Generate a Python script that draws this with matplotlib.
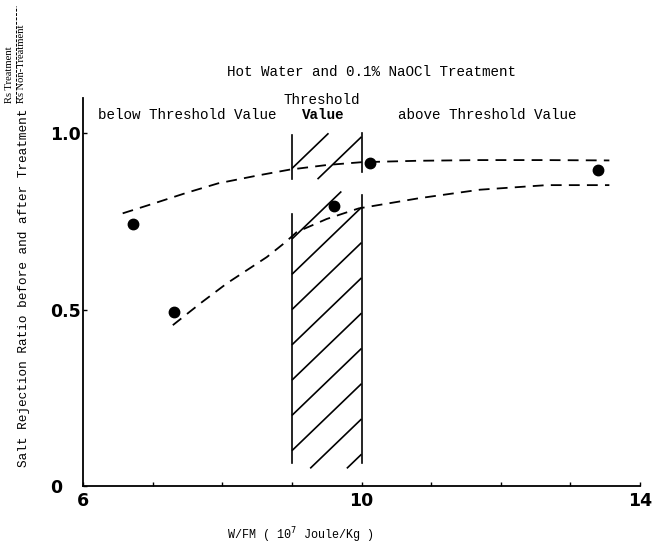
import matplotlib
matplotlib.use("Agg")
import matplotlib.pyplot as plt
import numpy as np

# ---------------- data ----------------
points_x = [6.72, 7.30, 9.60, 10.12, 13.40]
points_y = [0.742, 0.493, 0.793, 0.915, 0.895]

upper_curve_x = [6.57, 7.00, 7.50, 7.94, 8.50, 8.97, 9.50, 10.00, 10.80, 11.70, 12.60, 13.56]
upper_curve_y = [0.773, 0.800, 0.832, 0.858, 0.880, 0.897, 0.910, 0.918, 0.922, 0.924, 0.924, 0.923]

lower_curve_x = [7.29, 7.70, 8.07, 8.64, 8.90, 9.07, 9.50, 9.96, 10.83, 11.70, 12.66, 13.56]
lower_curve_y = [0.456, 0.520, 0.575, 0.649, 0.690, 0.720, 0.757, 0.787, 0.816, 0.840, 0.853, 0.853]

threshold_range = [9.0, 10.0]

x_ticks = [6, 7, 8, 9, 10, 11, 12, 13, 14]
x_ticklabels = ["6", "", "", "", "10", "", "", "", "14"]
y_ticks = [0.0, 0.5, 1.0]
y_ticklabels = ["0", "0.5", "1.0"]

title = "Hot Water and 0.1% NaOCl Treatment"
xlabel = "W/FM ( 10$^{7}$ Joule/Kg )"
ylabel = "Salt Rejection Ratio before and after Treatment"

# ---------------- figure ----------------
W, H = 652, 552
fig = plt.figure(figsize=(W / 100, H / 100), dpi=100)

def fx(px):
    return px / W

def fy(py):
    return 1 - py / H

ax = fig.add_axes([fx(83), fy(486), fx(640) - fx(83), fy(98) - fy(486)])
ax.set_xlim(6, 14)
ax.set_ylim(0, 1.1)

for s in ["top", "right"]:
    ax.spines[s].set_visible(False)
for s in ["left", "bottom"]:
    ax.spines[s].set_linewidth(1.3)
    ax.spines[s].set_color("black")

mono = "Liberation Mono"
tickfont = {"family": "DejaVu Sans", "weight": "bold", "size": 12.5}

ax.set_xticks(x_ticks)
ax.set_xticklabels(x_ticklabels, fontdict=tickfont)
ax.set_yticks(y_ticks)
ax.set_yticklabels(y_ticklabels, fontdict=tickfont)
ax.tick_params(axis="x", direction="in", length=3, width=1.0, pad=4)
ax.tick_params(axis="y", direction="in", length=3, width=1.0, pad=24)
for lab in ax.get_yticklabels():
    lab.set_horizontalalignment("left")

# dashed fit curves
dash = (0, (6, 4))
ax.plot(upper_curve_x, upper_curve_y, color="black", lw=1.3, linestyle=dash)
ax.plot(lower_curve_x, lower_curve_y, color="black", lw=1.3, linestyle=dash)

# data points
ax.plot(points_x, points_y, "o", color="black", ms=7.5, zorder=5)

# threshold hatched band
x0, x1 = threshold_range
slope = 0.19
hatch_lw = 1.2

def hatch(y0s, ylo, yhi):
    for y0 in y0s:
        xs = max(x0, x0 + (ylo - y0) / slope)
        xe = min(x1, x0 + (yhi - y0) / slope)
        if xe > xs:
            ax.plot([xs, xe], [y0 + slope * (xs - x0), y0 + slope * (xe - x0)],
                    color="black", lw=hatch_lw, solid_capstyle="butt")

hatch([-0.1, 0.0, 0.1, 0.2, 0.3, 0.4, 0.5, 0.6, 0.7], 0.05, 0.835)
hatch([0.8, 0.9], 0.87, 1.0)

# band edges
ax.plot([x0, x0], [0.065, 0.77], color="black", lw=hatch_lw)
ax.plot([x0, x0], [0.87, 0.995], color="black", lw=hatch_lw)
ax.plot([x1, x1], [0.065, 0.825], color="black", lw=hatch_lw)
ax.plot([x1, x1], [0.89, 1.0], color="black", lw=hatch_lw)

# ---------------- texts ----------------
fig.text(fx(371), fy(72), title, family=mono, fontsize=10.3, ha="center", va="center")
fig.text(fx(98), fy(115), "below Threshold Value", family=mono, fontsize=10.3, ha="left", va="center")
fig.text(fx(322), fy(100), "Threshold", family=mono, fontsize=10.3, ha="center", va="center")
fig.text(fx(323), fy(115), "Value", family=mono, fontsize=10.3, weight="bold", ha="center", va="center")
fig.text(fx(398), fy(115), "above Threshold Value", family=mono, fontsize=10.3, ha="left", va="center")

fig.text(fx(300), fy(535), xlabel, family=mono, fontsize=8.5, ha="center", va="center")
fig.text(fx(24), fy(288), ylabel, family=mono, fontsize=9.2, rotation=90, ha="center", va="center")

# fraction Rs Treatment / Rs Non-Treatment
fig.text(fx(10), fy(103), "Rs Treatment", family="Liberation Serif", fontsize=7.6,
         rotation=90, rotation_mode="anchor", ha="left", va="center")
fig.text(fx(22), fy(103), "Rs Non-Treatment", family="Liberation Serif", fontsize=7.6,
         rotation=90, rotation_mode="anchor", ha="left", va="center")
fig.add_artist(plt.Line2D([fx(16), fx(16)], [fy(103), fy(6)], color="black", lw=0.7,
                          linestyle=(0, (3, 1.5))))

fig.savefig("out.png", dpi=100)
